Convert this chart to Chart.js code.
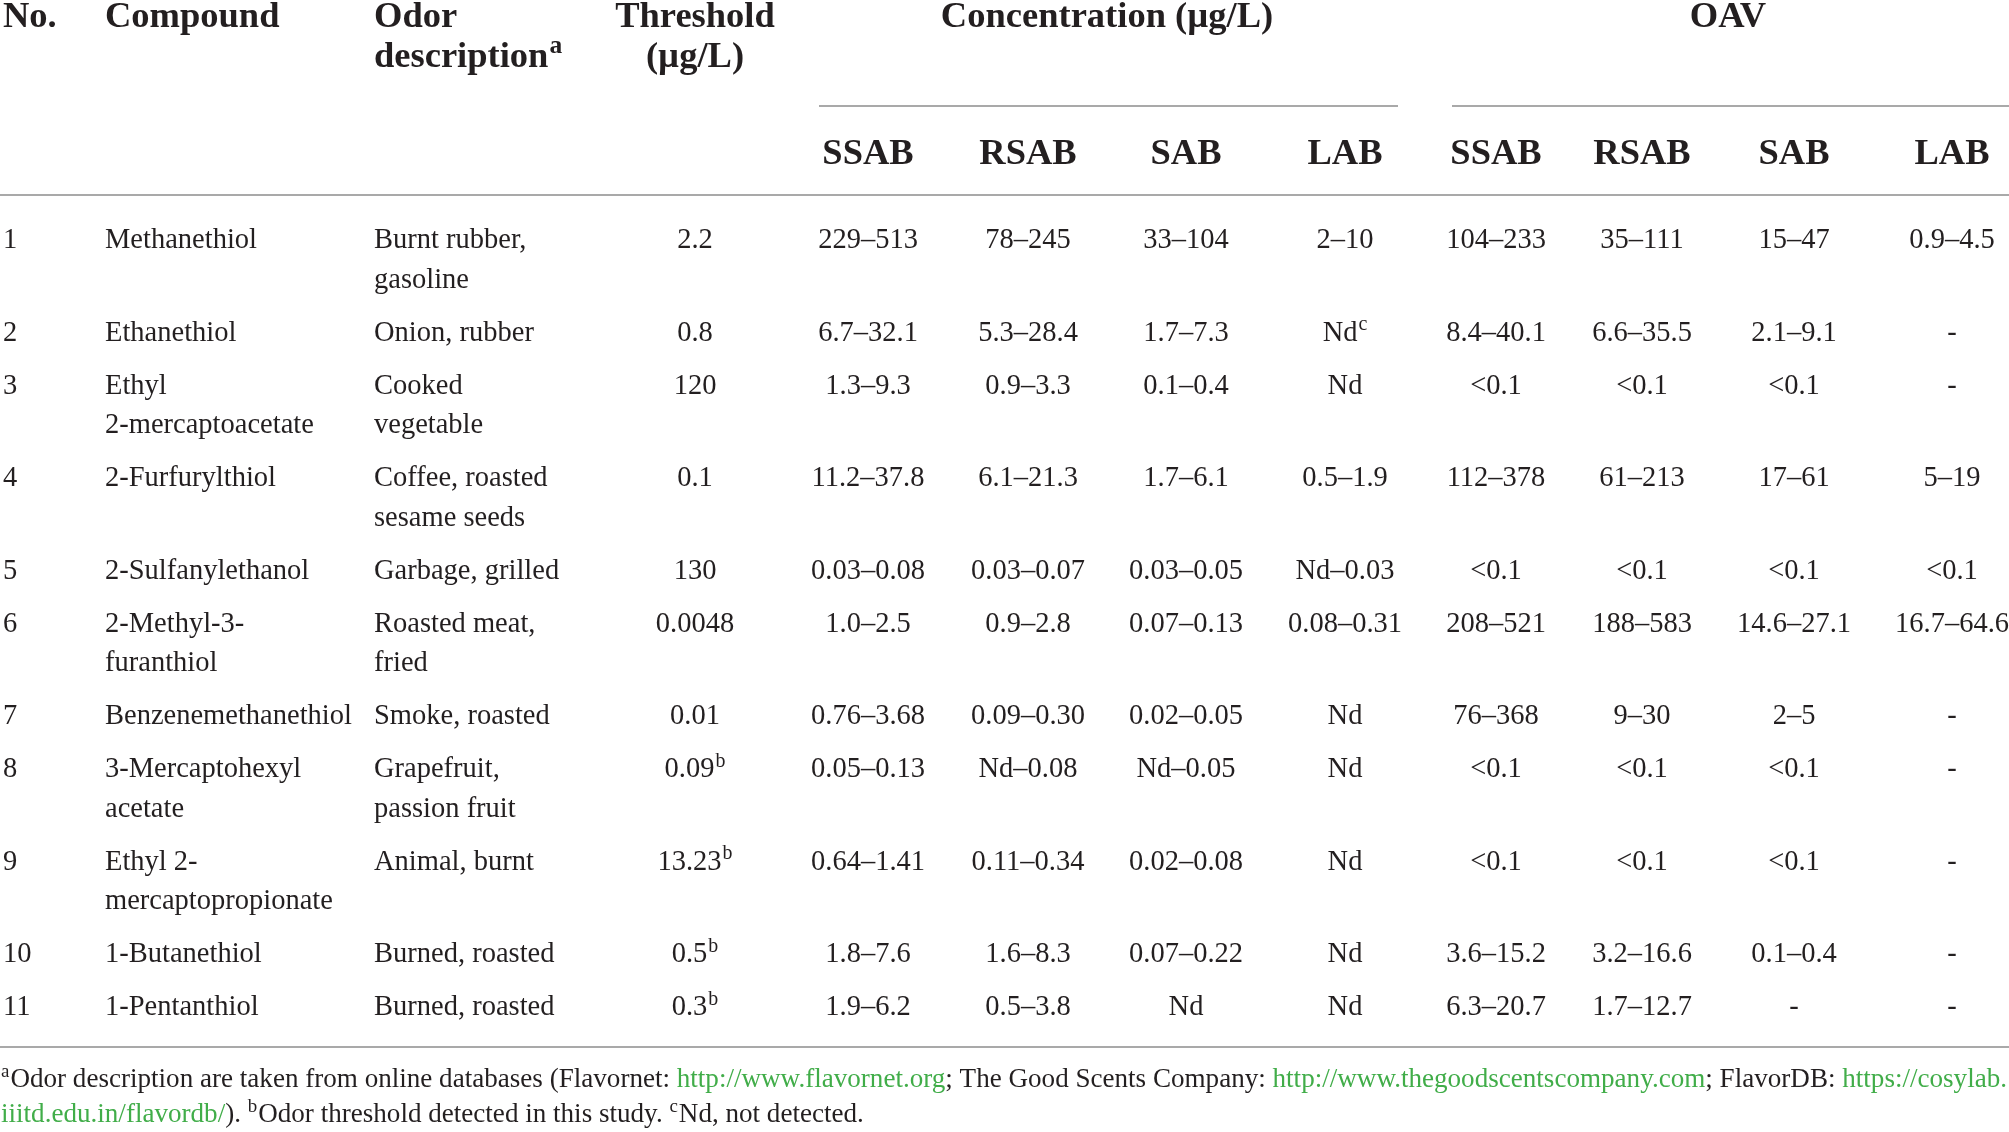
<!DOCTYPE html>
<html>
<head>
<meta charset="utf-8">
<script src="https://cdn.jsdelivr.net/npm/chart.js@4.4.1/dist/chart.umd.min.js"></script>
<style>
  html, body { margin: 0; padding: 0; background: #fff; }
  #wrap { width: 2009px; height: 1132px; }
</style>
</head>
<body>
<div id="wrap"><canvas id="tbl" width="2009" height="1132"></canvas></div>
<script>
// table content ("^" marks a superscript, "\n" a line break inside a cell)
const nos = ['1', '2', '3', '4', '5', '6', '7', '8', '9', '10', '11'];
const compounds = ['Methanethiol', 'Ethanethiol', 'Ethyl\n2-mercaptoacetate', '2-Furfurylthiol', '2-Sulfanylethanol',
  '2-Methyl-3-\nfuranthiol', 'Benzenemethanethiol', '3-Mercaptohexyl\nacetate', 'Ethyl 2-\nmercaptopropionate',
  '1-Butanethiol', '1-Pentanthiol'];
const odors = ['Burnt rubber,\ngasoline', 'Onion, rubber', 'Cooked\nvegetable', 'Coffee, roasted\nsesame seeds',
  'Garbage, grilled', 'Roasted meat,\nfried', 'Smoke, roasted', 'Grapefruit,\npassion fruit', 'Animal, burnt',
  'Burned, roasted', 'Burned, roasted'];
const thresholds = ['2.2', '0.8', '120', '0.1', '130', '0.0048', '0.01', '0.09^b', '13.23^b', '0.5^b', '0.3^b'];

const concSSAB = ['229–513', '6.7–32.1', '1.3–9.3', '11.2–37.8', '0.03–0.08', '1.0–2.5', '0.76–3.68', '0.05–0.13', '0.64–1.41', '1.8–7.6', '1.9–6.2'];
const concRSAB = ['78–245', '5.3–28.4', '0.9–3.3', '6.1–21.3', '0.03–0.07', '0.9–2.8', '0.09–0.30', 'Nd–0.08', '0.11–0.34', '1.6–8.3', '0.5–3.8'];
const concSAB = ['33–104', '1.7–7.3', '0.1–0.4', '1.7–6.1', '0.03–0.05', '0.07–0.13', '0.02–0.05', 'Nd–0.05', '0.02–0.08', '0.07–0.22', 'Nd'];
const concLAB = ['2–10', 'Nd^c', 'Nd', '0.5–1.9', 'Nd–0.03', '0.08–0.31', 'Nd', 'Nd', 'Nd', 'Nd', 'Nd'];

const oavSSAB = ['104–233', '8.4–40.1', '<0.1', '112–378', '<0.1', '208–521', '76–368', '<0.1', '<0.1', '3.6–15.2', '6.3–20.7'];
const oavRSAB = ['35–111', '6.6–35.5', '<0.1', '61–213', '<0.1', '188–583', '9–30', '<0.1', '<0.1', '3.2–16.6', '1.7–12.7'];
const oavSAB = ['15–47', '2.1–9.1', '<0.1', '17–61', '<0.1', '14.6–27.1', '2–5', '<0.1', '<0.1', '0.1–0.4', '-'];
const oavLAB = ['0.9–4.5', '-', '-', '5–19', '<0.1', '16.7–64.6', '-', '-', '-', '-', '-'];

const mainHeaders = ['No.', 'Compound', 'Odor\ndescription^a', 'Threshold\n(µg/L)'];
const groupHeaders = ['Concentration (µg/L)', 'OAV'];
const subHeaders = ['SSAB', 'RSAB', 'SAB', 'LAB'];

// footnote pieces: [text, kind]  kind: t = text, l = link, s = superscript
const footLine1 = [['a', 's'], ['Odor description are taken from online databases (Flavornet: ', 't'], ['http://www.flavornet.org', 'l'],
  ['; The Good Scents Company: ', 't'], ['http://www.thegoodscentscompany.com', 'l'], ['; FlavorDB: ', 't'], ['https://cosylab.', 'l']];
const footLine2 = [['iiitd.edu.in/flavordb/', 'l'], ['). ', 't'], ['b', 's'], ['Odor threshold detected in this study. ', 't'],
  ['c', 's'], ['Nd, not detected.', 't']];

// layout
const W = 2009, H = 1132;
const INK = '#231f20', LINK = '#41ad49', RULE = '#a9a9a9';
const FAMILY = '"Liberation Serif", "DejaVu Serif", serif';
const BODY = 28.5, HEAD = 36.5, FOOT = 26.5, SUP = 0.7;
const leftX = [3, 105, 374];
const thresholdX = 695;
const concX = [868, 1028, 1186, 1345];
const oavX = [1496, 1642, 1794, 1952];
const groupX = [1107, 1728];
const headBase = [27, 66.5], subBase = 164;
const firstBase = 248, rowStep = 53, lineStep = 39.5;

// one point per text line; the plugin writes the text where the scales put the point
const cells = [];
function addCell(x, y, text, align, bold, size) {
  cells.push({ x: x, y: y, text: text, align: align, bold: bold, size: size });
}

mainHeaders.forEach(function (h, i) {
  h.split('\n').forEach(function (line, j) {
    if (i < 3) addCell(leftX[i], headBase[j], line, 'left', true, HEAD);
    else addCell(thresholdX, headBase[j], line, 'center', true, HEAD);
  });
});
groupHeaders.forEach(function (h, i) { addCell(groupX[i], headBase[0], h, 'center', true, HEAD); });
subHeaders.forEach(function (h, i) {
  addCell(concX[i], subBase, h, 'center', true, HEAD);
  addCell(oavX[i], subBase, h, 'center', true, HEAD);
});

const concCols = [concSSAB, concRSAB, concSAB, concLAB];
const oavCols = [oavSSAB, oavRSAB, oavSAB, oavLAB];
let base = firstBase;
nos.forEach(function (no, r) {
  addCell(leftX[0], base, no, 'left', false, BODY);
  const cl = compounds[r].split('\n');
  const ol = odors[r].split('\n');
  cl.forEach(function (line, j) { addCell(leftX[1], base + j * lineStep, line, 'left', false, BODY); });
  ol.forEach(function (line, j) { addCell(leftX[2], base + j * lineStep, line, 'left', false, BODY); });
  addCell(thresholdX, base, thresholds[r], 'center', false, BODY);
  concCols.forEach(function (col, i) { addCell(concX[i], base, col[r], 'center', false, BODY); });
  oavCols.forEach(function (col, i) { addCell(oavX[i], base, col[r], 'center', false, BODY); });
  const lines = Math.max(cl.length, ol.length);
  base += rowStep + (lines - 1) * lineStep;
});

function fontOf(size, bold) { return (bold ? 'bold ' : '') + size + 'px ' + FAMILY; }

function drawRich(ctx, x, y, text, align, size, bold) {
  const parts = text.split('^');
  const main = parts[0], sup = parts[1];
  ctx.font = fontOf(size, bold);
  const wMain = ctx.measureText(main).width;
  let wSup = 0;
  if (sup) { ctx.font = fontOf(size * SUP, bold); wSup = ctx.measureText(sup).width + 1; }
  const left = align === 'center' ? x - (wMain + wSup) / 2 : x;
  ctx.font = fontOf(size, bold);
  ctx.fillText(main, left, y);
  if (sup) {
    ctx.font = fontOf(size * SUP, bold);
    ctx.fillText(sup, left + wMain + 1, y - size * 0.36);
  }
}

function pieceWidth(ctx, p) {
  ctx.font = fontOf(p[1] === 's' ? FOOT * SUP : FOOT, false);
  return ctx.measureText(p[0]).width + (p[1] === 's' ? 1 : 0);
}

function drawFoot(ctx, pieces, x, y, k) {
  ctx.save();
  ctx.translate(x, y);
  ctx.scale(k, 1);
  let cx = 0;
  pieces.forEach(function (p) {
    ctx.fillStyle = p[1] === 'l' ? LINK : INK;
    if (p[1] === 's') {
      ctx.font = fontOf(FOOT * SUP, false);
      ctx.fillText(p[0], cx, -FOOT * 0.36);
    } else {
      ctx.font = fontOf(FOOT, false);
      ctx.fillText(p[0], cx, 0);
    }
    cx += pieceWidth(ctx, p);
  });
  ctx.restore();
}

const tablePlugin = {
  id: 'tableText',
  afterDatasetsDraw: function (chart) {
    const ctx = chart.ctx;
    const meta = chart.getDatasetMeta(0);
    ctx.save();
    ctx.fillStyle = INK;
    ctx.textAlign = 'left';
    ctx.textBaseline = 'alphabetic';
    meta.data.forEach(function (el, i) {
      const c = chart.data.datasets[0].data[i];
      drawRich(ctx, el.x, el.y, c.text, c.align, c.size, c.bold);
    });
    // footnotes, squeezed so line 1 runs the full width
    const xs = chart.scales.x, ys = chart.scales.y;
    let natural = 0;
    footLine1.forEach(function (p) { natural += pieceWidth(ctx, p); });
    const k = (xs.getPixelForValue(W - 2) - xs.getPixelForValue(1)) / natural;
    drawFoot(ctx, footLine1, xs.getPixelForValue(1), ys.getPixelForValue(1087), k);
    drawFoot(ctx, footLine2, xs.getPixelForValue(1), ys.getPixelForValue(1122), k);
    ctx.restore();
  }
};

function rule(x1, x2, y) {
  return {
    type: 'line', data: [{ x: x1, y: y }, { x: x2, y: y }], borderColor: RULE, borderWidth: 2,
    pointRadius: 0, fill: false, tension: 0
  };
}

new Chart(document.getElementById('tbl').getContext('2d'), {
  type: 'scatter',
  data: {
    datasets: [
      { label: 'cells', data: cells, pointRadius: 0, pointHoverRadius: 0 },
      rule(819, 1398, 106),
      rule(1452, W, 106),
      rule(0, W, 195),
      rule(0, W, 1047)
    ]
  },
  options: {
    responsive: false,
    animation: false,
    devicePixelRatio: 1,
    events: [],
    layout: { padding: 0 },
    plugins: { legend: { display: false }, tooltip: { enabled: false } },
    scales: {
      x: { type: 'linear', min: 0, max: W, display: false },
      y: { type: 'linear', min: 0, max: H, reverse: true, display: false }
    }
  },
  plugins: [tablePlugin]
});
</script>
</body>
</html>
